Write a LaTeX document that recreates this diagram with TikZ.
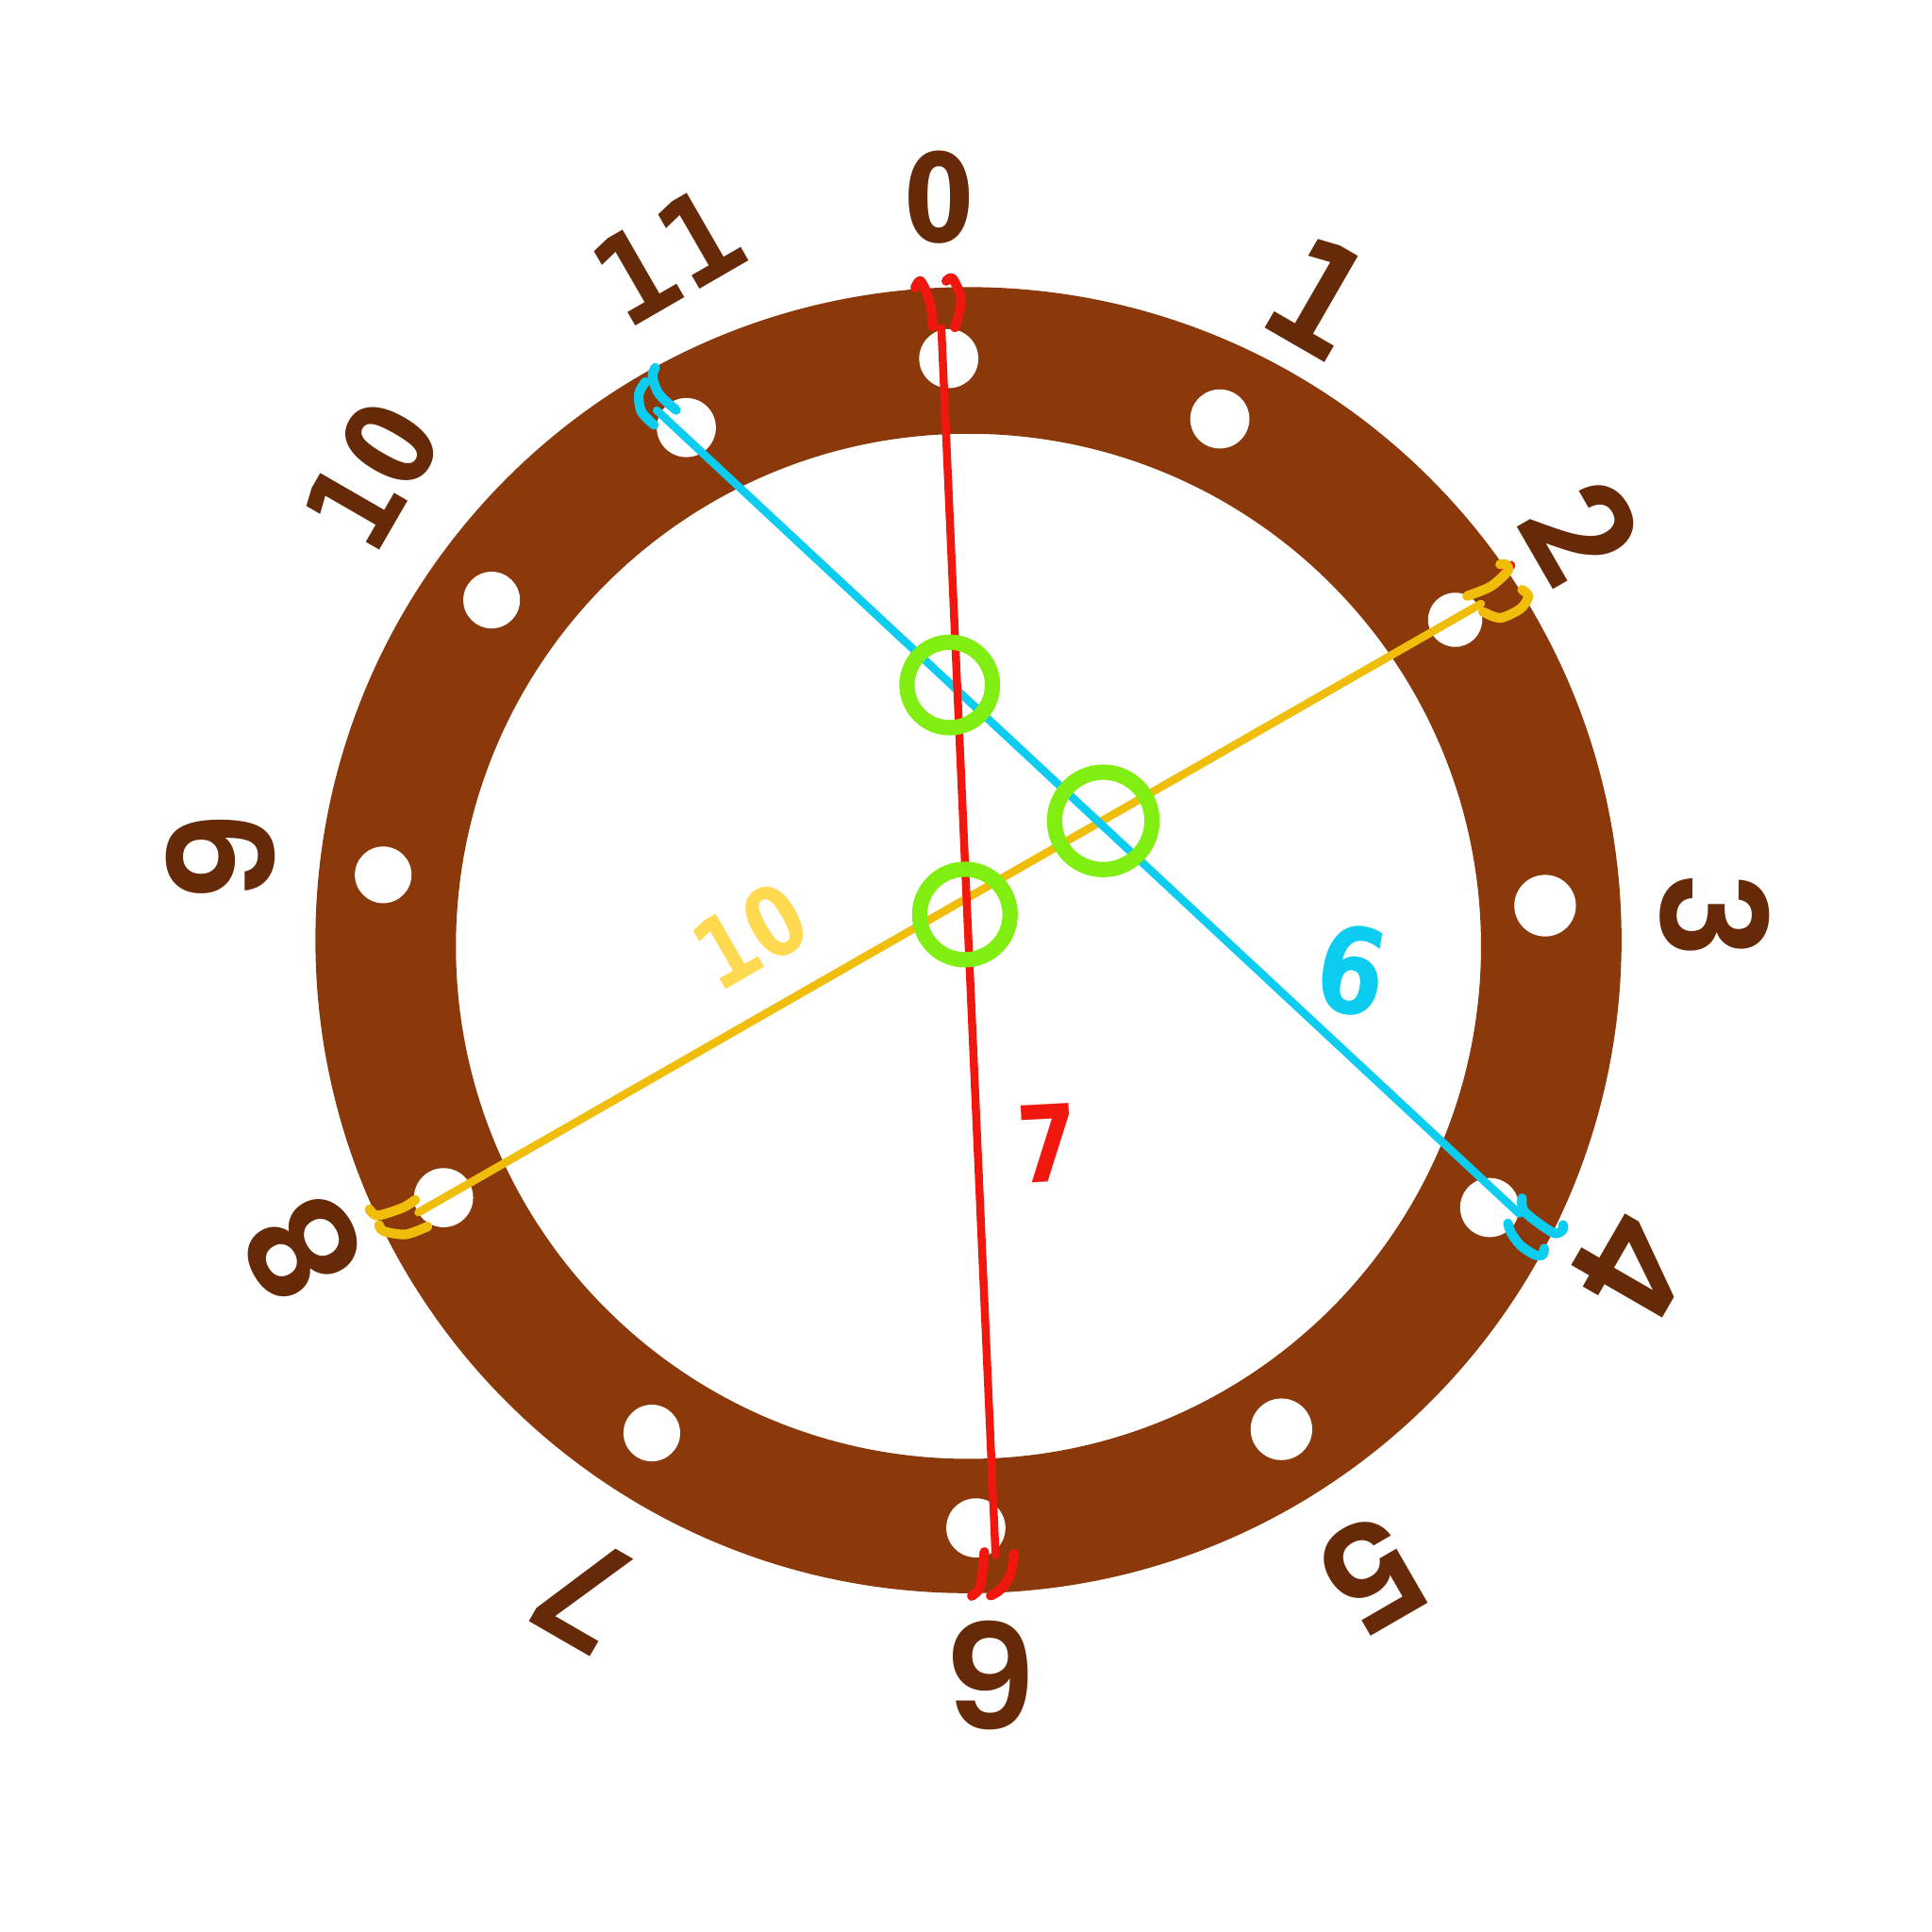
\documentclass[tikz,border=0pt]{standalone}
\usepackage{graphicx}
\usepackage{fontspec}
\newfontfamily\monof{DejaVu Sans Mono}
\newfontfamily\sansf{DejaVu Sans}
\newfontfamily\popf{Poppins}[BoldFont={* SemiBold}]
\newcommand\zr{\scalebox{0.82}[1]{\sansf\bfseries 0}}
\definecolor{ringbrown}{RGB}{139,57,11}
\definecolor{labbrown}{RGB}{102,42,8}
\definecolor{cred}{RGB}{240,24,14}
\definecolor{cblue}{RGB}{12,204,240}
\definecolor{cyell}{RGB}{240,190,10}
\definecolor{cyelltext}{RGB}{255,218,80}
\definecolor{cgreen}{RGB}{128,238,16}
\tikzset{
  lab/.style={text=labbrown, inner sep=0pt, font=\monof\bfseries\fontsize{37}{37}\selectfont},
  labone/.style={text=labbrown, inner sep=0pt, font=\monof\bfseries\fontsize{45}{45}\selectfont},
  labp/.style={text=labbrown, inner sep=0pt, font=\popf\bfseries\fontsize{44}{44}\selectfont},
  hole/.style={fill=white},
  chord/.style={line width=2.4pt, line cap=round},
  hook/.style={line width=2.9pt, line cap=round, line join=round},
  gmark/.style={circle, draw=cgreen, line width=4.6pt, inner sep=0pt},
}
\begin{document}
\begin{tikzpicture}[x=0.01306cm,y=-0.01306cm]
\useasboundingbox (0,0) rectangle (1568,1568);
\fill[white] (0,0) rectangle (1568,1568);
% ring
\fill[ringbrown,even odd rule] (786,763) circle[radius=530] (786,768) circle[radius=416];
% holes
\foreach \p/\r in {{(770,291)}/24,{(990,340)}/24,{(1181,503)}/22,{(1254,735)}/25,{(1209,980)}/24,{(1040,1160)}/25,{(792,1240)}/24,{(529,1163)}/23,{(360,972)}/24,{(311,710)}/23,{(399,487)}/23,{(557,347)}/24}
  \fill[hole] \p circle[radius=\r];
% labels
\node[lab] (l0) at (762,160) {\zr};
\node[labone,rotate=-30] (l1) at (1071,241) {1};
\node[labp,rotate=-60] (l2) at (1283,431) {2};
\node[labp,rotate=-90] (l3) at (1392,743) {3};
\node[labp,rotate=-120] (l4) at (1325,1027) {4};
\node[labp,rotate=-150] (l5) at (1114,1277) {5};
\node[labp,rotate=180] (l6) at (805,1360) {6};
\node[labp,rotate=150] (l7) at (476,1293) {7};
\node[labp,rotate=120] (l8) at (246,1013) {8};
\node[labp,rotate=90] (l9) at (179,696) {9};
\node[lab,rotate=60] (l10) at (301,386) {1\zr};
\node[lab,rotate=30] (l11) at (542,208) {11};
% chord end points
\coordinate (r0) at (764,266);
\coordinate (r6) at (808,1262);
\coordinate (b11) at (533,333);
\coordinate (b4) at (1233,985);
\coordinate (y8) at (339.5,984);
\coordinate (y2) at (1202,490);
% chords
\draw[chord,cyell] (y8) -- (y2);
\draw[chord,cblue] (b11) -- (b4);
\draw[chord,cred] (r0) -- (r6);
% hooks red
\draw[hook,cred] plot[smooth] coordinates {(742.7,233.5) (747,228) (753,240) (756,252) (757,265)};
\draw[hook,cred] plot[smooth] coordinates {(768,228) (773,226) (779.5,240) (778.7,252.7) (775,265.7)};
\draw[hook,cred] plot[smooth] coordinates {(798.9,1259.6) (797.5,1275) (795,1289) (788.7,1295.3)};
\draw[hook,cred] plot[smooth] coordinates {(823,1261) (820,1278) (812,1290) (804,1295)};
\draw[hook,cred] (1221,462) -- (1226,459);
% hooks blue
\draw[hook,cblue] plot[smooth] coordinates {(531.8,298.5) (529.5,306) (535,320) (548.7,332.7)};
\draw[hook,cblue] plot[smooth] coordinates {(523.7,310) (518.5,319.7) (520.5,334) (530.8,344.8)};
\draw[hook,cblue] plot[smooth] coordinates {(1235.3,972.5) (1236.6,982.6) (1250.6,994.1) (1262.1,1001) (1268.5,998) (1268.5,994.1)};
\draw[hook,cblue] plot[smooth] coordinates {(1223.8,992.9) (1226.4,1000.5) (1234,1010.7) (1245.6,1018.4) (1251.9,1018.4) (1253.2,1013.3)};
% hooks yellow
\draw[hook,cyell] plot[smooth] coordinates {(1190.7,483.7) (1209.8,476) (1223.8,463.3) (1222,458) (1217.5,458)};
\draw[hook,cyell] plot[smooth] coordinates {(1203.5,496.4) (1217.5,501.5) (1234,494) (1240.5,484) (1235.3,478.6)};
\draw[hook,cyell] plot[smooth] coordinates {(337,973.8) (326.7,980.2) (306.3,986.5) (299.9,981.4)};
\draw[hook,cyell] plot[smooth] coordinates {(347,995.4) (329.3,1001.8) (311.4,999.2) (307.6,994.1)};
% intersection marks
\node[gmark,minimum size=25.8pt] (g1) at (770.8,555.9) {};
\node[gmark,minimum size=29.4pt] (g2) at (895.4,666.2) {};
\node[gmark,minimum size=27.3pt] (g3) at (783.1,742.2) {};
% chord labels
\node[inner sep=0pt,text=cyelltext,rotate=30,font=\monof\bfseries\fontsize{29}{29}\selectfont] (ty) at (608.7,759.3) {1\zr};
\node[inner sep=0pt,text=cblue,rotate=-10,font=\sansf\bfseries\fontsize{36}{36}\selectfont] (tb) at (1097.5,787.4) {\scalebox{0.82}[1]{6}};
\node[inner sep=0pt,text=cred,rotate=3,font=\sansf\bfseries\fontsize{32}{32}\selectfont] (tr) at (850.3,927.8) {\scalebox{0.82}[1]{7}};
\end{tikzpicture}
\end{document}
